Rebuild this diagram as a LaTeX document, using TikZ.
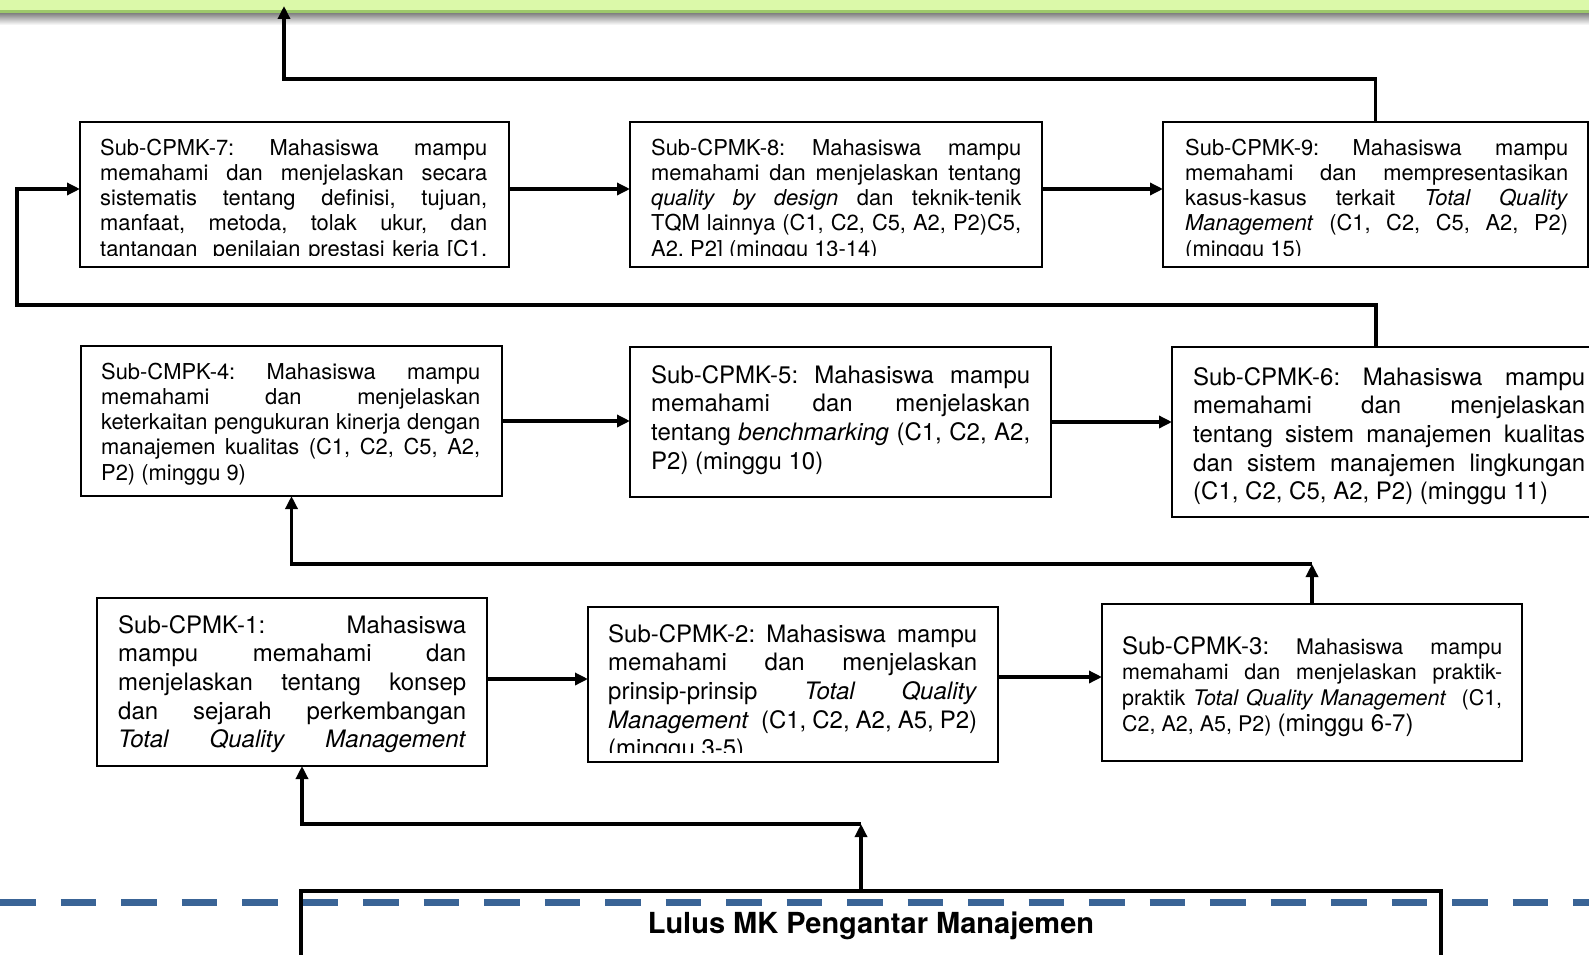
\documentclass[tikz,border=0pt]{standalone}
\usepackage{fontspec}
\setmainfont{TeX Gyre Heros}
\usetikzlibrary{arrows.meta}
\definecolor{barg}{HTML}{DBF9A9}
\definecolor{barb}{HTML}{9DC86B}
\definecolor{dashc}{HTML}{3A6496}
\frenchspacing
\newcommand\fa{\fontsize{21.9}{25.3}\selectfont}
\newcommand\fb{\fontsize{24}{28.7}\selectfont}
\newcommand\fc{\fontsize{21.5}{25.7}\selectfont}
\newcommand\jline[1]{\makebox[\linewidth][s]{#1}\\}
\newcommand\jlast[1]{\makebox[\linewidth][s]{#1}}
\newcommand\lline[1]{\makebox[\linewidth][l]{#1}}
\tikzset{
  cbox/.style={draw, line width=1.3pt, inner sep=0pt, outer sep=0pt, anchor=north west},
  ctext/.style={anchor=base west, inner sep=0pt},
  conn/.style={line width=3.5pt, -{Triangle[length=13pt,width=12pt]}},
}
\begin{document}
\begin{tikzpicture}[x=1pt,y=-1pt]
\useasboundingbox (0,0) rectangle (1589,955);
\fill[white] (0,0) rectangle (1589,955);
% top bar
\fill[barg] (0,0) rectangle (1589,10);
\shade[top color=black!50, bottom color=white] (0,13) rectangle (1589,25);
\draw[barb, line width=3pt] (0,11.5) -- (1589,11.5);

% boxes
\node[cbox, minimum width=429pt, minimum height=145pt] (b7) at (80,122) {};
\node[cbox, minimum width=412pt, minimum height=145pt] (b8) at (630,122) {};
\node[cbox, minimum width=425pt, minimum height=145pt] (b9) at (1163,122) {};
\node[cbox, minimum width=421pt, minimum height=150pt] (b4) at (81,346) {};
\node[cbox, minimum width=421pt, minimum height=150pt] (b5) at (630,347) {};
\node[cbox, minimum width=428pt, minimum height=170pt] (b6) at (1172,347) {};
\node[cbox, minimum width=390pt, minimum height=168pt] (b1) at (97,598) {};
\node[cbox, minimum width=410pt, minimum height=155pt] (b2) at (588,607) {};
\node[cbox, minimum width=420pt, minimum height=157pt] (b3) at (1102,604) {};

% texts
\begin{scope}
\clip (b7.north west) rectangle ([yshift=11.5pt]b7.south east);
\node[ctext] (t7) at ([xshift=20pt,yshift=-33pt]b7.north west) {\parbox[t]{387pt}{\fa
\jline{Sub-CPMK-7: Mahasiswa mampu}
\jline{memahami dan menjelaskan secara}
\jline{sistematis tentang definisi, tujuan,}
\jline{manfaat, metoda, tolak ukur, dan}
\jlast{tantangan\ \ penilaian prestasi kerja [C1,}}};
\end{scope}
\begin{scope}
\clip (b8.north west) rectangle ([yshift=11.5pt]b8.south east);
\node[ctext] (t8) at ([xshift=21pt,yshift=-33pt]b8.north west) {\parbox[t]{370pt}{\fa
\jline{Sub-CPMK-8: Mahasiswa mampu}
\jline{memahami dan menjelaskan tentang}
\jline{\textit{quality by design} dan teknik-tenik}
\jline{TQM lainnya (C1, C2, C5, A2, P2)C5,}
\lline{A2, P2] (minggu 13-14)}}};
\end{scope}
\begin{scope}
\clip (b9.north west) rectangle ([yshift=11.5pt]b9.south east);
\node[ctext] (t9) at ([xshift=22pt,yshift=-33pt]b9.north west) {\parbox[t]{383pt}{\fa
\jline{Sub-CPMK-9: Mahasiswa mampu}
\jline{memahami dan mempresentasikan}
\jline{kasus-kasus terkait \textit{Total Quality}}
\jline{\textit{Management} (C1, C2, C5, A2, P2)}
\lline{(minggu 15)}}};
\end{scope}
\node[ctext] (t4) at ([xshift=20pt,yshift=-33pt]b4.north west) {\parbox[t]{379pt}{\fa
\jline{Sub-CMPK-4: Mahasiswa mampu}
\jline{memahami dan menjelaskan}
\jline{keterkaitan pengukuran kinerja dengan}
\jline{manajemen kualitas (C1, C2, C5, A2,}
\lline{P2) (minggu 9)}}};
\node[ctext] (t5) at ([xshift=21pt,yshift=-36pt]b5.north west) {\parbox[t]{379pt}{\fb
\jline{Sub-CPMK-5: Mahasiswa mampu}
\jline{memahami dan menjelaskan}
\jline{tentang \textit{benchmarking} (C1, C2, A2,}
\lline{P2) (minggu 10)}}};
\node[ctext] (t6) at ([xshift=21pt,yshift=-38pt]b6.north west) {\parbox[t]{392pt}{\fb
\jline{Sub-CPMK-6: Mahasiswa mampu}
\jline{memahami dan menjelaskan}
\jline{tentang sistem manajemen kualitas}
\jline{dan sistem manajemen lingkungan}
\lline{(C1, C2, C5, A2, P2) (minggu 11)}}};
\node[ctext] (t1) at ([xshift=21pt,yshift=-35pt]b1.north west) {\parbox[t]{348pt}{\fb
\jline{Sub-CPMK-1: Mahasiswa}
\jline{mampu memahami dan}
\jline{menjelaskan tentang konsep}
\jline{dan sejarah perkembangan}
\jlast{\textit{Total Quality Management}}}};
\begin{scope}
\clip (b2.north west) rectangle ([yshift=10pt]b2.south east);
\node[ctext] (t2) at ([xshift=20pt,yshift=-35pt]b2.north west) {\parbox[t]{369pt}{\fb
\jline{Sub-CPMK-2: Mahasiswa mampu}
\jline{memahami dan menjelaskan}
\jline{prinsip-prinsip \textit{Total Quality}}
\jline{\textit{Management}\ \ (C1, C2, A2, A5, P2)}
\lline{(minggu 3-5)}}};
\end{scope}
\node[ctext] (t3) at ([xshift=20pt,yshift=-50pt]b3.north west) {\parbox[t]{380pt}{\fc
\jline{{\fb Sub-CPMK-3:} Mahasiswa mampu}
\jline{memahami dan menjelaskan praktik-}
\jline{praktik \textit{Total Quality Management}\ \ (C1,}
\lline{C2, A2, A5, P2) {\fb (minggu 6-7)}}}};

% bottom box
\node[draw, line width=4.5pt, outer sep=0pt, minimum width=1140pt, minimum height=69pt, anchor=north west, inner sep=0pt,
  font=\bfseries\fontsize{29}{34}\selectfont] (lulus) at (301,891) {Lulus MK Pengantar Manajemen};
\draw[dashc, line width=7pt, dash pattern=on 35.5pt off 25pt] (0,902) -- (1589,902);

% connectors
\coordinate (topturn) at (284,79);
\coordinate (topin) at (284,6);
\draw[conn] (b9.north) |- (topturn) -- (topin);

\coordinate (lturn) at (17,305);
\coordinate (a7w) at ([yshift=5.5pt]b7.west);
\draw[conn] ([xshift=-10pt]b6.north) |- (lturn) |- (a7w);

\coordinate (a78) at ([yshift=5.5pt]b7.east);
\draw[conn] (a78) -- (a78 -| b8.west);
\coordinate (a89) at ([yshift=5.5pt]b8.east);
\draw[conn] (a89) -- (a89 -| b9.west);

\draw[conn] (b4.east) -- (b4.east -| b5.west);
\draw[conn] (b5.east) -- (b5.east -| b6.west);

\coordinate (a12) at ([yshift=3pt]b1.east);
\draw[conn] (a12) -- (a12 -| b2.west);
\coordinate (a23) at ([yshift=7.5pt]b2.east);
\draw[conn] (a23) -- (a23 -| b3.west);

\coordinate (hz) at (0,564);
\coordinate (j3) at (b3.north |- hz);
\draw[conn] (b3.north) -- (j3);
\draw[conn] (j3) -| (b4.south);

\coordinate (hl) at (0,824);
\coordinate (lt) at ([xshift=-10pt]lulus.north);
\coordinate (jl) at (lt |- hl);
\draw[conn] (lt) -- (jl);
\draw[conn] (jl) -| ([xshift=10pt]b1.south);
\end{tikzpicture}
\end{document}
